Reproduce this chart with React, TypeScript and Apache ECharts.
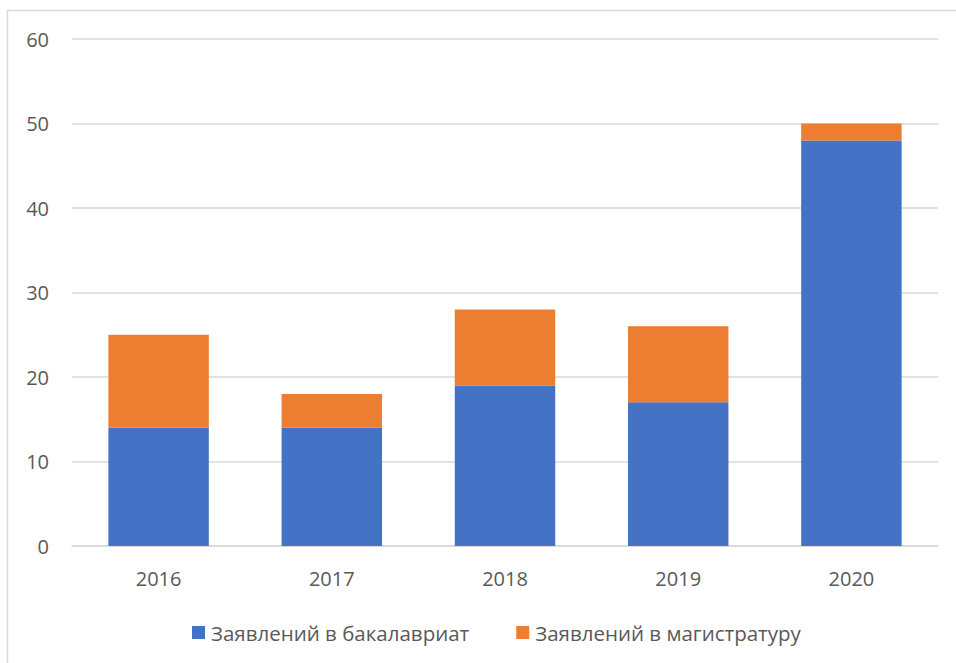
import React, { useEffect, useRef } from "react";
import * as echarts from "echarts";

const categories = ["2016", "2017", "2018", "2019", "2020"];
const bachelor = [14, 14, 19, 17, 48];
const master = [11, 4, 9, 9, 2];
const seriesNames = ["Заявлений в бакалавриат", "Заявлений в магистратуру"];
const yTicks = { min: 0, max: 60, interval: 10 };

export default function App() {
  const ref = useRef<HTMLDivElement>(null);
  useEffect(() => {
    if (!ref.current) return;
    const chart = echarts.init(ref.current, undefined, { renderer: "svg" });
    const font = "Open Sans, sans-serif";
    chart.setOption({
      animation: false,
      backgroundColor: "#ffffff",
      graphic: [
        {
          type: "rect",
          shape: { x: 7.5, y: 10.5, width: 1000, height: 700 },
          style: { fill: "none", stroke: "#d9d9d9", lineWidth: 1.5 },
          silent: true,
        },
      ],
      grid: { left: 72, right: 18, top: 39, bottom: 117, containLabel: false },
      legend: {
        top: 617,
        left: 187,
        itemWidth: 13,
        itemHeight: 13,
        itemGap: 47,
        icon: "rect",
        textStyle: { color: "#595959", fontSize: 20.5, fontFamily: font, padding: [0, 0, 0, 1] },
        data: seriesNames,
      },
      xAxis: {
        type: "category",
        data: categories,
        axisLine: { lineStyle: { color: "#d9d9d9", width: 1.5 } },
        axisTick: { show: false },
        axisLabel: { color: "#595959", fontSize: 20, fontFamily: font, margin: 22 },
      },
      yAxis: {
        type: "value",
        min: yTicks.min,
        max: yTicks.max,
        interval: yTicks.interval,
        axisLine: { show: false },
        axisTick: { show: false },
        splitLine: { lineStyle: { color: "#d9d9d9", width: 1.5 } },
        axisLabel: { color: "#595959", fontSize: 20, fontFamily: font, margin: 23 },
      },
      series: [
        {
          name: seriesNames[0],
          type: "bar",
          stack: "total",
          data: bachelor,
          barWidth: "58%",
          itemStyle: { color: "#4472c4" },
        },
        {
          name: seriesNames[1],
          type: "bar",
          stack: "total",
          data: master,
          barWidth: "58%",
          itemStyle: { color: "#ed7d31" },
        },
      ],
    });
    return () => chart.dispose();
  }, []);
  return (
    <div
      ref={ref}
      style={{ position: "absolute", left: 0, top: 0, width: 956, height: 663 }}
    />
  );
}
